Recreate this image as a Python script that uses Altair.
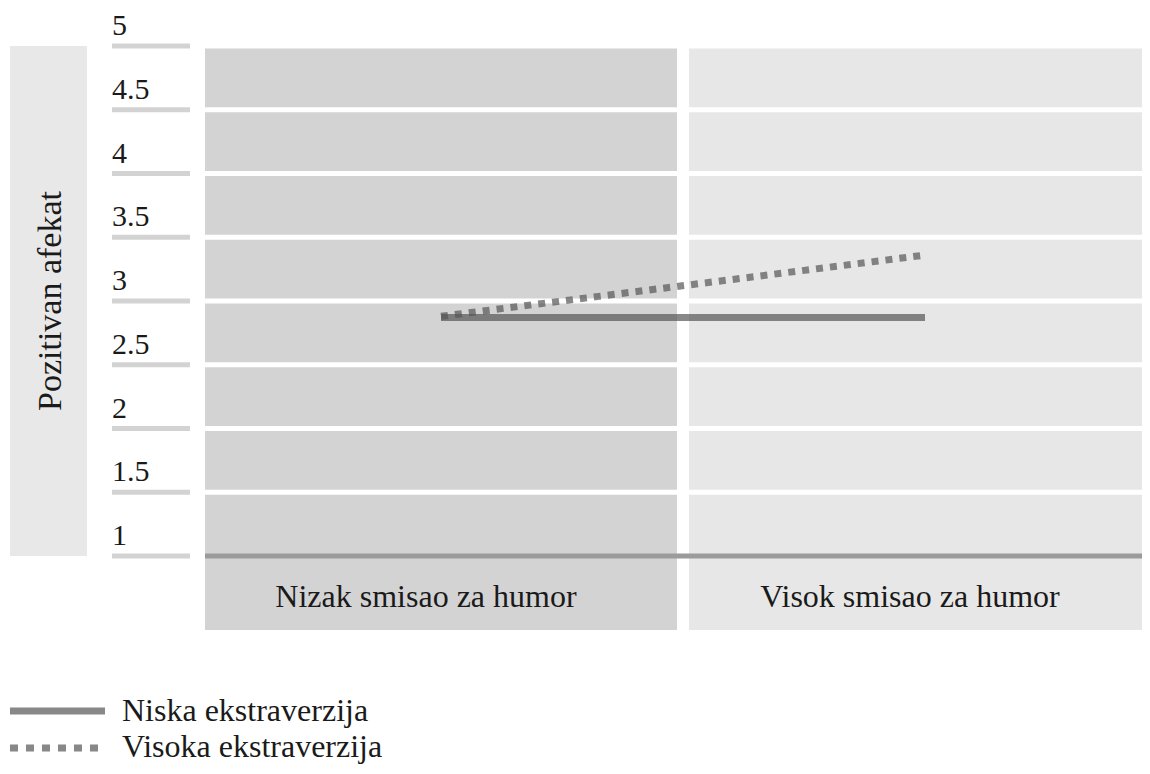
import altair as alt
import pandas as pd

# ---- data ----
categories = ["Nizak smisao za humor", "Visok smisao za humor"]
series = ["Niska ekstraverzija", "Visoka ekstraverzija"]
niska_values = [2.87, 2.87]
visoka_values = [2.88, 3.36]
tick_values = [1, 1.5, 2, 2.5, 3, 3.5, 4, 4.5, 5]
tick_labels = ["1", "1.5", "2", "2.5", "3", "3.5", "4", "4.5", "5"]
y_title = "Pozitivan afekat"

# ---- styling ----
FONT = "Liberation Serif"
TXT = "#1a1a1a"
panel_colors = ["#d4d3d4", "#e8e7e7"]
LINE = "#555555"

yscale = alt.Scale(domain=[min(tick_values), max(tick_values)], range=[548, 38])
xscale = alt.Scale(type="band", domain=categories, range=[197, 1153],
                   paddingInner=0.0248, paddingOuter=0)

lines_df = pd.DataFrame({
    "cat": categories * 2,
    "v": niska_values + visoka_values,
    "s": [series[0]] * 2 + [series[1]] * 2,
})
panels_df = pd.DataFrame({"cat": categories, "top": [max(tick_values)] * 2})
ticks_df = pd.DataFrame({"v": tick_values, "label": tick_labels})
grid_df = ticks_df[ticks_df["v"] > min(tick_values)]
base_df = ticks_df[ticks_df["v"] == min(tick_values)]
title_df = pd.DataFrame({"t": [y_title], "top": [max(tick_values)],
                         "bottom": [min(tick_values)],
                         "mid": [(max(tick_values) + min(tick_values)) / 2]})
legend_df = pd.DataFrame({"s": series})

Y = lambda f: alt.Y(f, scale=yscale, axis=None)
X = lambda: alt.X("cat:N", scale=xscale, axis=None, bandPosition=0.5)

panels = alt.Chart(panels_df).mark_rect().encode(
    x=alt.X("cat:N", scale=xscale, axis=None),
    y=Y("top:Q"),
    y2=alt.value(622),
    color=alt.Color("cat:N", scale=alt.Scale(domain=categories, range=panel_colors), legend=None),
)

grid = alt.Chart(grid_df).mark_rule(color="white", strokeWidth=5).encode(
    y=Y("v:Q"), x=alt.value(197), x2=alt.value(1134)
)

baseline = alt.Chart(base_df).mark_rule(color="#9b9b9b", strokeWidth=5).encode(
    y=Y("v:Q"), x=alt.value(197), x2=alt.value(1134)
)

tick_rules = alt.Chart(ticks_df).mark_rule(color="#d3d3d3", strokeWidth=5).encode(
    y=Y("v:Q"), x=alt.value(104), x2=alt.value(182)
)

tick_text = alt.Chart(ticks_df).mark_text(
    align="left", baseline="alphabetic", dy=-11, font=FONT, fontSize=30, color=TXT
).encode(y=Y("v:Q"), x=alt.value(104), text="label:N")

title_box = alt.Chart(title_df).mark_rect(color="#e8e8e8").encode(
    x=alt.value(2), x2=alt.value(79), y=Y("top:Q"), y2=alt.Y2("bottom:Q")
)

title_text = alt.Chart(title_df).mark_text(
    angle=270, align="center", baseline="middle", font=FONT, fontSize=34, color=TXT
).encode(x=alt.value(43), y=Y("mid:Q"), text="t:N")

x_labels = alt.Chart(panels_df).mark_text(
    align="center", baseline="alphabetic", dx=-15, font=FONT, fontSize=32, color=TXT
).encode(x=X(), y=alt.value(599), text="cat:N")

lines = alt.Chart(lines_df).mark_line(
    strokeWidth=7, color=LINE, opacity=0.7, strokeCap="butt"
).encode(
    x=X(),
    y=Y("v:Q"),
    strokeDash=alt.StrokeDash("s:N", scale=alt.Scale(domain=series, range=[[1, 0], [7, 7]]), legend=None),
    detail="s:N",
)

leg_solid = alt.Chart(legend_df[legend_df["s"] == series[0]]).mark_rule(
    color=LINE, opacity=0.7, strokeWidth=7
).encode(x=alt.value(2), x2=alt.value(97), y=alt.value(703))
leg_dash = alt.Chart(legend_df[legend_df["s"] == series[1]]).mark_rule(
    color=LINE, opacity=0.7, strokeWidth=7, strokeDash=[8, 8]
).encode(x=alt.value(2), x2=alt.value(97), y=alt.value(740))
leg_t1 = alt.Chart(legend_df[legend_df["s"] == series[0]]).mark_text(
    align="left", baseline="alphabetic", font=FONT, fontSize=32, color=TXT
).encode(x=alt.value(114), y=alt.value(713), text="s:N")
leg_t2 = alt.Chart(legend_df[legend_df["s"] == series[1]]).mark_text(
    align="left", baseline="alphabetic", font=FONT, fontSize=32, color=TXT
).encode(x=alt.value(114), y=alt.value(749), text="s:N")

chart = alt.layer(
    panels, grid, baseline, tick_rules, tick_text, title_box, title_text,
    x_labels, lines, leg_solid, leg_dash, leg_t1, leg_t2
).properties(
    width=1134, height=758, padding=0,
    autosize=alt.AutoSizeParams(type="none"),
    background="white",
).configure_view(stroke=None)

chart.save("out.html", embed_options={"renderer": "svg", "actions": False})
